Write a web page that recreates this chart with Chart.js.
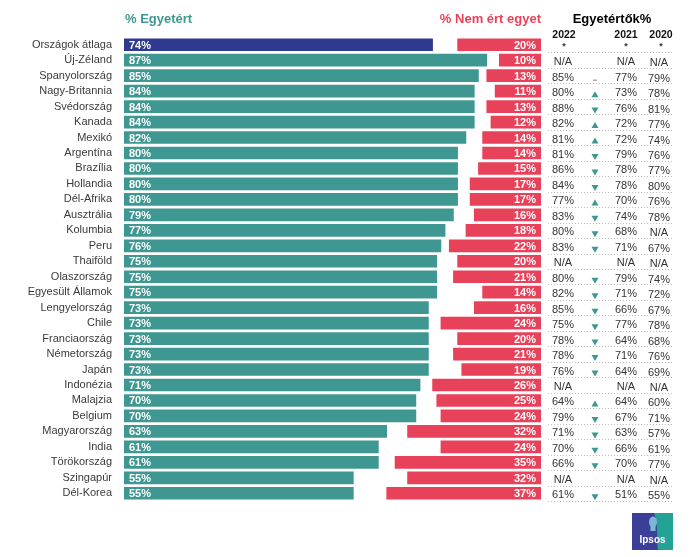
<!DOCTYPE html>
<html>
<head>
<meta charset="utf-8">
<script src="https://cdn.jsdelivr.net/npm/chart.js@4/dist/chart.umd.min.js"></script>
<style>
  html, body { margin: 0; padding: 0; background: #fff; }
  #wrap { width: 690px; height: 557px; position: relative; }
</style>
</head>
<body>
<div id="wrap"><canvas id="mychart" width="690" height="557"></canvas></div>
<script>
const countries = ['Országok átlaga', 'Új-Zéland', 'Spanyolország', 'Nagy-Britannia', 'Svédország', 'Kanada', 'Mexikó', 'Argentína', 'Brazília', 'Hollandia', 'Dél-Afrika', 'Ausztrália', 'Kolumbia', 'Peru', 'Thaiföld', 'Olaszország', 'Egyesült Államok', 'Lengyelország', 'Chile', 'Franciaország', 'Németország', 'Japán', 'Indonézia', 'Malajzia', 'Belgium', 'Magyarország', 'India', 'Törökország', 'Szingapúr', 'Dél-Korea']
const agree = [74, 87, 85, 84, 84, 84, 82, 80, 80, 80, 80, 79, 77, 76, 75, 75, 75, 73, 73, 73, 73, 73, 71, 70, 70, 63, 61, 61, 55, 55]
const disagree = [20, 10, 13, 11, 13, 12, 14, 14, 15, 17, 17, 16, 18, 22, 20, 21, 14, 16, 24, 20, 21, 19, 26, 25, 24, 32, 24, 35, 32, 37]

// trend table (Egyetértők%)
const years = ['2022', '2021', '2020']
const col2022 = ['*', 'N/A', '85%', '80%', '88%', '82%', '81%', '81%', '86%', '84%', '77%', '83%', '80%', '83%', 'N/A', '80%', '82%', '85%', '75%', '78%', '78%', '76%', 'N/A', '64%', '79%', '71%', '70%', '66%', 'N/A', '61%']
const trend = ['', '', '-', 'up', 'down', 'up', 'up', 'down', 'down', 'down', 'up', 'down', 'down', 'down', '', 'down', 'down', 'down', 'down', 'down', 'down', 'down', '', 'up', 'down', 'down', 'down', 'down', '', 'down']
const col2021 = ['*', 'N/A', '77%', '73%', '76%', '72%', '72%', '79%', '78%', '78%', '70%', '74%', '68%', '71%', 'N/A', '79%', '71%', '66%', '77%', '64%', '71%', '64%', 'N/A', '64%', '67%', '63%', '66%', '70%', 'N/A', '51%']
const col2020 = ['*', 'N/A', '79%', '78%', '81%', '77%', '74%', '76%', '77%', '80%', '76%', '78%', 'N/A', '67%', 'N/A', '74%', '72%', '67%', '78%', '68%', '76%', '69%', 'N/A', '60%', '71%', '57%', '61%', '77%', 'N/A', '55%']

const TEAL = '#3f9792'
const NAVY = '#2d3a90'
const RED = '#e8425a'
const FONT = '"Liberation Sans", Arial, sans-serif'

const extrasPlugin = {
  id: 'extras',
  afterDatasetsDraw(chart) {
    const ctx = chart.ctx
    const x = chart.scales.x
    const y = chart.scales.y
    const area = chart.chartArea

    ctx.save()
    // value labels inside bars
    ctx.font = 'bold 11px ' + FONT
    ctx.fillStyle = '#fff'
    ctx.textBaseline = 'middle'
    agree.forEach((v, i) => {
      ctx.textAlign = 'left'
      ctx.fillText(v + '%', x.getPixelForValue(0) + 5, y.getPixelForValue(i) + 1)
    })
    disagree.forEach((v, i) => {
      ctx.textAlign = 'right'
      ctx.fillText(v + '%', x.getPixelForValue(100) - 5, y.getPixelForValue(i) + 1)
    })

    // column titles
    ctx.font = 'bold 13px ' + FONT
    ctx.textBaseline = 'middle'
    ctx.fillStyle = TEAL
    ctx.textAlign = 'left'
    ctx.fillText('% Egyetért', area.left + 1, 19)
    ctx.fillStyle = RED
    ctx.textAlign = 'right'
    ctx.fillText('% Nem ért egyet', area.right, 19)
    ctx.fillStyle = '#000'
    ctx.textAlign = 'center'
    ctx.fillText('Egyetértők%', 612, 19)

    // table
    const cx = [563, 626, 659]
    ctx.font = 'bold 10.5px ' + FONT
    ctx.fillStyle = '#111'
    years.forEach((yr, k) => ctx.fillText(yr, cx[k] + (k === 0 ? 1 : k === 2 ? 2 : 0), 35))

    const rowH = y.getPixelForValue(1) - y.getPixelForValue(0)
    ctx.font = '11px ' + FONT
    ctx.fillStyle = '#333'
    countries.forEach((c, i) => {
      const yy = y.getPixelForValue(i) + 2
      const cols = [col2022[i], col2021[i], col2020[i]]
      cols.forEach((t, k) => {
        if (t === '*') {
          ctx.font = 'bold 9px ' + FONT
          ctx.fillText('*', cx[k] + (k === 0 ? 1 : k === 2 ? 2 : 0), yy)
          ctx.font = '11px ' + FONT
        } else {
          ctx.fillText(t, cx[k], yy + (k === 2 ? 1 : 0))
        }
      })
      // trend arrow
      const ax = 595
      const ay = yy + 1
      ctx.fillStyle = TEAL
      if (trend[i] === 'up') {
        ctx.beginPath()
        ctx.moveTo(ax, ay - 3)
        ctx.lineTo(ax + 3.5, ay + 3)
        ctx.lineTo(ax - 3.5, ay + 3)
        ctx.closePath()
        ctx.fill()
      } else if (trend[i] === 'down') {
        ctx.beginPath()
        ctx.moveTo(ax - 3.5, ay - 2)
        ctx.lineTo(ax + 3.5, ay - 2)
        ctx.lineTo(ax, ay + 4)
        ctx.closePath()
        ctx.fill()
      } else if (trend[i] === '-') {
        ctx.fillStyle = '#888'
        ctx.fillRect(ax - 2, ay + 1, 4, 1)
      }
      ctx.fillStyle = '#333'

      // dotted row separator
      ctx.strokeStyle = '#bdbdbd'
      ctx.lineWidth = 1
      ctx.setLineDash([1, 2])
      ctx.beginPath()
      const ly = Math.round(y.getPixelForValue(i) + rowH / 2) + 0.5
      ctx.moveTo(548, ly)
      ctx.lineTo(674, ly)
      ctx.stroke()
      ctx.setLineDash([])
    })

    // Ipsos logo
    const lx = 632, ly0 = 513, lw = 41, lh = 37
    ctx.fillStyle = '#3b3f97'
    ctx.fillRect(lx, ly0, lw, lh)
    ctx.fillStyle = '#25a296'
    ctx.beginPath()
    ctx.moveTo(lx + 22, ly0)
    ctx.lineTo(lx + lw, ly0)
    ctx.lineTo(lx + lw, ly0 + lh)
    ctx.lineTo(lx + 26, ly0 + lh)
    ctx.bezierCurveTo(lx + 24, ly0 + 24, lx + 27, ly0 + 14, lx + 22, ly0)
    ctx.closePath()
    ctx.fill()
    ctx.fillStyle = '#7fb6d8'
    ctx.beginPath()
    ctx.ellipse(lx + 21, ly0 + 9, 4, 5.5, 0, 0, Math.PI * 2)
    ctx.fill()
    ctx.fillRect(lx + 18.5, ly0 + 13, 5, 5)
    ctx.fillStyle = '#fff'
    ctx.font = 'bold 10px ' + FONT
    ctx.textAlign = 'center'
    ctx.textBaseline = 'middle'
    ctx.fillText('Ipsos', lx + lw / 2, ly0 + 27)
    ctx.restore()
  }
}

new Chart(document.getElementById('mychart').getContext('2d'), {
  type: 'bar',
  data: {
    labels: countries,
    datasets: [
      {
        label: '% Egyetért',
        data: agree.map(v => [0, v]),
        backgroundColor: agree.map((v, i) => i === 0 ? NAVY : TEAL),
        barThickness: 12,
        grouped: false,
      },
      {
        label: '% Nem ért egyet',
        data: disagree.map(v => [100 - v, 100]),
        backgroundColor: RED,
        barThickness: 12,
        grouped: false,
      },
    ]
  },
  options: {
    indexAxis: 'y',
    responsive: false,
    animation: false,
    layout: { padding: { left: 0, right: 149, top: 37, bottom: 56 } },
    plugins: {
      legend: { display: false },
      tooltip: { enabled: false },
    },
    scales: {
      x: { min: 0, max: 100, display: false },
      y: {
        grid: { display: false, drawTicks: false },
        border: { display: false },
        ticks: {
          autoSkip: false,
          color: '#3a3a3a',
          padding: 12,
          font: { family: FONT, size: 11 },
        },
        afterFit(scale) { scale.width = 124 },
      }
    }
  },
  plugins: [extrasPlugin]
})
</script>
</body>
</html>
